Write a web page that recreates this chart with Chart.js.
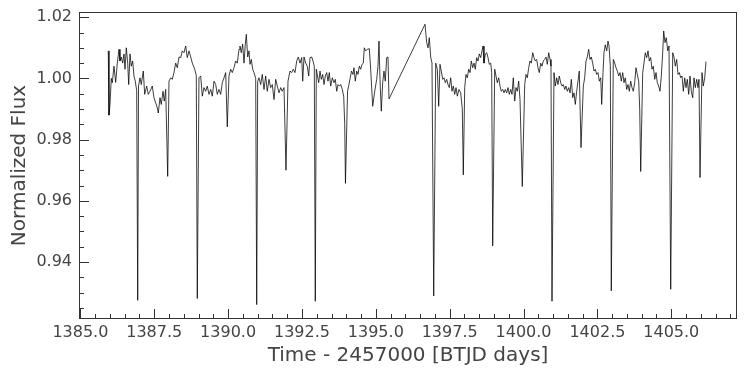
<!DOCTYPE html>
<html>
<head>
<meta charset="utf-8">
<script src="https://cdn.jsdelivr.net/npm/chart.js@4/dist/chart.umd.min.js"></script>
<style>
  html, body { margin: 0; padding: 0; background: #fff; }
  canvas { display: block; }
</style>
</head>
<body>
<canvas id="lc" width="751" height="372"></canvas>
<script>
// time (BTJD days) and normalized flux
const time = [
  1385.944, 1385.968, 1386.002, 1386.046, 1386.080, 1386.137, 1386.195, 1386.249, 1386.307, 1386.340,
  1386.384, 1386.432, 1386.476, 1386.510, 1386.554, 1386.601, 1386.635, 1386.679, 1386.723, 1386.770,
  1386.814, 1386.858, 1386.906, 1386.940, 1386.967, 1387.017, 1387.061, 1387.129, 1387.176, 1387.244,
  1387.298, 1387.356, 1387.434, 1387.491, 1387.549, 1387.603, 1387.637, 1387.694, 1387.738, 1387.796,
  1387.840, 1387.887, 1387.955, 1387.999, 1388.057, 1388.111, 1388.168, 1388.226, 1388.280, 1388.338,
  1388.395, 1388.449, 1388.507, 1388.564, 1388.618, 1388.676, 1388.734, 1388.788, 1388.869, 1388.923,
  1388.957, 1389.014, 1389.072, 1389.126, 1389.184, 1389.241, 1389.295, 1389.353, 1389.411, 1389.465,
  1389.522, 1389.580, 1389.634, 1389.691, 1389.749, 1389.803, 1389.861, 1389.918, 1389.972, 1390.030,
  1390.088, 1390.142, 1390.199, 1390.257, 1390.311, 1390.369, 1390.402, 1390.446, 1390.494, 1390.538,
  1390.582, 1390.616, 1390.663, 1390.707, 1390.741, 1390.785, 1390.832, 1390.876, 1390.934, 1390.968,
  1391.001, 1391.045, 1391.103, 1391.157, 1391.215, 1391.272, 1391.326, 1391.384, 1391.441, 1391.496,
  1391.553, 1391.611, 1391.665, 1391.722, 1391.780, 1391.834, 1391.892, 1391.959, 1392.027, 1392.095,
  1392.152, 1392.206, 1392.264, 1392.322, 1392.376, 1392.433, 1392.491, 1392.525, 1392.569, 1392.626,
  1392.680, 1392.728, 1392.772, 1392.829, 1392.873, 1392.917, 1392.951, 1392.985, 1393.066, 1393.110,
  1393.154, 1393.202, 1393.246, 1393.290, 1393.337, 1393.381, 1393.425, 1393.472, 1393.527, 1393.584,
  1393.628, 1393.676, 1393.720, 1393.764, 1393.811, 1393.865, 1393.913, 1393.947, 1393.972, 1394.043,
  1394.090, 1394.134, 1394.177, 1394.226, 1394.261, 1394.305, 1394.353, 1394.397, 1394.441, 1394.488,
  1394.532, 1394.576, 1394.610, 1394.657, 1394.711, 1394.779, 1394.826, 1394.894, 1394.962, 1395.029,
  1395.073, 1395.107, 1395.141, 1395.185, 1395.232, 1395.276, 1395.320, 1395.368, 1395.412, 1395.446,
  1396.664, 1396.722, 1396.766, 1396.810, 1396.857, 1396.901, 1396.959, 1397.027, 1397.081, 1397.128,
  1397.172, 1397.216, 1397.264, 1397.308, 1397.352, 1397.399, 1397.443, 1397.487, 1397.534, 1397.578,
  1397.622, 1397.670, 1397.714, 1397.758, 1397.815, 1397.873, 1397.927, 1397.961, 1398.008, 1398.052,
  1398.096, 1398.144, 1398.188, 1398.232, 1398.279, 1398.323, 1398.367, 1398.414, 1398.458, 1398.502,
  1398.550, 1398.594, 1398.628, 1398.661, 1398.705, 1398.753, 1398.797, 1398.841, 1398.888, 1398.922,
  1398.956, 1399.024, 1399.068, 1399.112, 1399.159, 1399.203, 1399.247, 1399.294, 1399.338, 1399.382,
  1399.430, 1399.474, 1399.518, 1399.565, 1399.609, 1399.653, 1399.701, 1399.745, 1399.789, 1399.836,
  1399.880, 1399.958, 1400.039, 1400.083, 1400.127, 1400.175, 1400.219, 1400.263, 1400.310, 1400.354,
  1400.398, 1400.445, 1400.489, 1400.533, 1400.581, 1400.625, 1400.669, 1400.716, 1400.760, 1400.804,
  1400.852, 1400.896, 1400.929, 1400.963, 1401.031, 1401.075, 1401.122, 1401.166, 1401.210, 1401.258,
  1401.302, 1401.346, 1401.393, 1401.437, 1401.481, 1401.529, 1401.573, 1401.617, 1401.664, 1401.708,
  1401.752, 1401.799, 1401.843, 1401.887, 1401.945, 1402.023, 1402.070, 1402.114, 1402.158, 1402.205,
  1402.249, 1402.293, 1402.341, 1402.385, 1402.429, 1402.476, 1402.520, 1402.564, 1402.612, 1402.645,
  1402.689, 1402.723, 1402.767, 1402.815, 1402.859, 1402.893, 1402.937, 1402.970, 1403.038, 1403.086,
  1403.130, 1403.174, 1403.221, 1403.265, 1403.309, 1403.356, 1403.400, 1403.444, 1403.492, 1403.536,
  1403.580, 1403.627, 1403.671, 1403.715, 1403.762, 1403.806, 1403.850, 1403.898, 1403.932, 1403.966,
  1404.033, 1404.077, 1404.121, 1404.169, 1404.213, 1404.257, 1404.304, 1404.348, 1404.392, 1404.440,
  1404.484, 1404.528, 1404.575, 1404.619, 1404.663, 1404.710, 1404.744, 1404.788, 1404.832, 1404.880,
  1404.924, 1404.981, 1405.049, 1405.093, 1405.137, 1405.184, 1405.228, 1405.272, 1405.320, 1405.364,
  1405.408, 1405.455, 1405.499, 1405.543, 1405.590, 1405.634, 1405.678, 1405.726, 1405.770, 1405.814,
  1405.861, 1405.905, 1405.939, 1405.973, 1406.040, 1406.084, 1406.132, 1406.176
];

const flux = [
  1.0090, 0.9880, 0.9915, 1.0000, 0.9986, 1.0040, 0.9987, 1.0050, 1.0095, 1.0057,
  1.0070, 1.0050, 1.0080, 1.0030, 1.0100, 1.0050, 0.9980, 1.0080, 1.0040, 1.0057,
  1.0008, 0.9991, 0.9960, 0.9275, 0.9975, 1.0002, 0.9980, 1.0024, 0.9948, 0.9975,
  0.9948, 0.9958, 0.9975, 0.9937, 0.9920, 0.9904, 0.9887, 0.9937, 0.9915, 0.9958,
  0.9926, 0.9964, 0.9680, 0.9991, 1.0002, 0.9997, 1.0019, 1.0050, 1.0035, 1.0070,
  1.0068, 1.0090, 1.0084, 1.0106, 1.0068, 1.0090, 1.0070, 1.0050, 1.0030, 1.0010,
  0.9281, 1.0002, 1.0008, 0.9942, 0.9970, 0.9958, 0.9975, 0.9948, 0.9964, 0.9942,
  0.9991, 0.9980, 0.9948, 0.9964, 0.9948, 0.9986, 1.0002, 1.0019, 0.9842, 1.0008,
  1.0030, 1.0019, 1.0035, 1.0057, 1.0050, 1.0095, 1.0106, 1.0084, 1.0112, 1.0050,
  1.0112, 1.0144, 1.0070, 1.0090, 1.0046, 1.0062, 1.0030, 1.0019, 1.0000, 0.9261,
  0.9990, 1.0002, 0.9980, 1.0013, 0.9964, 1.0008, 0.9958, 0.9997, 0.9970, 0.9980,
  0.9931, 0.9997, 0.9975, 0.9953, 0.9970, 0.9958, 0.9970, 0.9700, 0.9991, 1.0024,
  1.0019, 1.0030, 1.0019, 1.0057, 1.0070, 1.0050, 1.0068, 0.9991, 1.0070, 1.0050,
  1.0040, 1.0008, 1.0068, 1.0070, 1.0057, 1.0040, 0.9272, 1.0030, 0.9986, 1.0024,
  0.9997, 1.0013, 0.9980, 1.0008, 1.0019, 0.9991, 1.0019, 0.9975, 1.0002, 0.9986,
  0.9997, 0.9958, 0.9980, 0.9975, 0.9980, 0.9964, 0.9942, 0.9850, 0.9657, 0.9958,
  0.9980, 1.0002, 1.0024, 1.0013, 1.0035, 0.9991, 1.0024, 1.0013, 1.0040, 1.0030,
  1.0046, 1.0050, 1.0100, 1.0090, 1.0095, 1.0097, 1.0030, 0.9909, 0.9958, 0.9997,
  1.0040, 1.0122, 0.9997, 0.9893, 0.9986, 1.0024, 0.9991, 1.0068, 1.0070, 0.9933,
  1.0177, 1.0117, 1.0100, 1.0133, 1.0070, 1.0050, 0.9289, 1.0050, 1.0030, 0.9909,
  1.0046, 1.0024, 0.9997, 1.0002, 0.9986, 0.9997, 0.9980, 0.9970, 1.0002, 0.9958,
  0.9975, 0.9948, 0.9970, 0.9942, 0.9964, 0.9953, 0.9900, 0.9685, 0.9970, 1.0013,
  1.0002, 1.0030, 1.0019, 1.0057, 1.0035, 1.0050, 1.0030, 1.0068, 1.0057, 1.0080,
  1.0068, 1.0090, 1.0106, 1.0050, 1.0080, 1.0084, 1.0068, 1.0046, 1.0050, 1.0020,
  0.9453, 1.0030, 1.0008, 0.9986, 1.0002, 0.9975, 0.9958, 0.9964, 0.9953, 0.9964,
  0.9953, 0.9970, 0.9948, 0.9964, 0.9948, 1.0002, 0.9926, 0.9970, 0.9958, 0.9991,
  0.9931, 0.9647, 0.9980, 1.0013, 1.0002, 1.0035, 1.0057, 1.0050, 1.0084, 1.0068,
  1.0057, 1.0062, 1.0035, 1.0019, 1.0050, 1.0040, 1.0057, 1.0062, 1.0070, 1.0046,
  1.0084, 1.0062, 1.0040, 0.9272, 1.0019, 0.9975, 1.0002, 0.9980, 1.0008, 0.9986,
  0.9975, 0.9980, 0.9964, 0.9975, 0.9958, 0.9970, 0.9953, 0.9997, 0.9937, 0.9953,
  0.9915, 0.9958, 0.9991, 1.0024, 0.9774, 0.9975, 1.0002, 1.0057, 1.0070, 1.0095,
  1.0062, 1.0070, 1.0050, 1.0024, 1.0030, 1.0013, 1.0019, 0.9991, 1.0002, 0.9915,
  1.0019, 1.0084, 1.0110, 1.0090, 1.0122, 1.0106, 1.0040, 0.9306, 1.0062, 1.0050,
  1.0035, 1.0024, 1.0008, 1.0019, 0.9991, 1.0019, 0.9986, 1.0002, 0.9964, 0.9980,
  0.9958, 0.9991, 0.9970, 0.9958, 0.9986, 1.0035, 1.0013, 0.9991, 0.9900, 0.9696,
  1.0019, 1.0050, 1.0084, 1.0068, 1.0090, 1.0057, 1.0068, 1.0030, 1.0040, 0.9997,
  1.0019, 0.9986, 0.9975, 0.9958, 1.0008, 1.0084, 1.0155, 1.0117, 1.0133, 1.0090,
  1.0106, 0.9311, 1.0084, 1.0070, 1.0040, 1.0062, 1.0013, 1.0019, 1.0002, 1.0008,
  0.9958, 1.0002, 0.9970, 0.9997, 0.9948, 1.0008, 0.9958, 0.9937, 1.0002, 0.9970,
  0.9997, 0.9970, 0.9997, 0.9676, 1.0019, 0.9975, 1.0002, 1.0055
];

const xRange = [1384.953, 1407.225];
const yRange = [0.9214, 1.0217];

const textColor = '#444';
const axisColor = '#333';

// matplotlib-like frame with inward major/minor ticks
const frameTicks = {
  id: 'frameTicks',
  afterDraw(chart) {
    const { ctx, chartArea: a, scales } = chart;
    const x = scales.x, y = scales.y;
    ctx.save();
    ctx.strokeStyle = axisColor;
    ctx.lineWidth = 1;
    ctx.strokeRect(a.left + 0.5, a.top + 0.5, a.right - a.left - 1, a.bottom - a.top - 1);
    ctx.beginPath();
    for (let i = 0; ; i++) {
      const v = 1385 + i * 0.5;
      if (v > x.max) break;
      const px = Math.round(x.getPixelForValue(v)) + 0.5;
      const len = i % 5 === 0 ? 10 : 5;
      ctx.moveTo(px, a.bottom);
      ctx.lineTo(px, a.bottom - len);
    }
    for (let i = 0; ; i++) {
      const v = 0.925 + i * 0.005;
      if (v > y.max) break;
      const py = Math.round(y.getPixelForValue(v)) + 0.5;
      const len = (i + 1) % 4 === 0 ? 10 : 5;
      ctx.moveTo(a.left, py);
      ctx.lineTo(a.left + len, py);
    }
    ctx.stroke();
    ctx.restore();
  }
};

new Chart(document.getElementById('lc'), {
  type: 'line',
  data: {
    datasets: [{
      data: time.map((t, i) => ({ x: t, y: flux[i] })),
      borderColor: 'rgba(0,0,0,0.85)',
      borderWidth: 0.9,
      pointRadius: 0,
      tension: 0,
      fill: false
    }]
  },
  options: {
    responsive: false,
    animation: false,
    layout: { padding: { top: 12, right: 14, left: 0, bottom: 0 } },
    plugins: { legend: { display: false }, tooltip: { enabled: false } },
    scales: {
      x: {
        type: 'linear',
        min: xRange[0],
        max: xRange[1],
        grid: { display: false, drawTicks: false },
        border: { display: false },
        ticks: {
          stepSize: 2.5,
          includeBounds: false,
          autoSkip: false,
          maxRotation: 0,
          padding: 4,
          color: textColor,
          font: { family: 'DejaVu Sans', size: 16 },
          callback: v => v.toFixed(1)
        },
        title: {
          display: true,
          text: 'Time - 2457000 [BTJD days]',
          color: textColor,
          font: { family: 'DejaVu Sans', size: 20 },
          padding: { top: 0, bottom: 4 }
        },
        afterFit(s) { s.height = 53; s.paddingLeft = 0; s.paddingRight = 0; }
      },
      y: {
        min: yRange[0],
        max: yRange[1],
        grid: { display: false, drawTicks: false },
        border: { display: false },
        ticks: {
          stepSize: 0.02,
          includeBounds: false,
          padding: 7,
          color: textColor,
          font: { family: 'DejaVu Sans', size: 16 },
          callback: v => v.toFixed(2)
        },
        title: {
          display: true,
          text: 'Normalized Flux',
          color: textColor,
          font: { family: 'DejaVu Sans', size: 20 },
          padding: { top: 8, bottom: 0 }
        },
        afterFit(s) { s.width = 79; s.paddingTop = 0; s.paddingBottom = 0; }
      }
    }
  },
  plugins: [frameTicks]
});
</script>
</body>
</html>
